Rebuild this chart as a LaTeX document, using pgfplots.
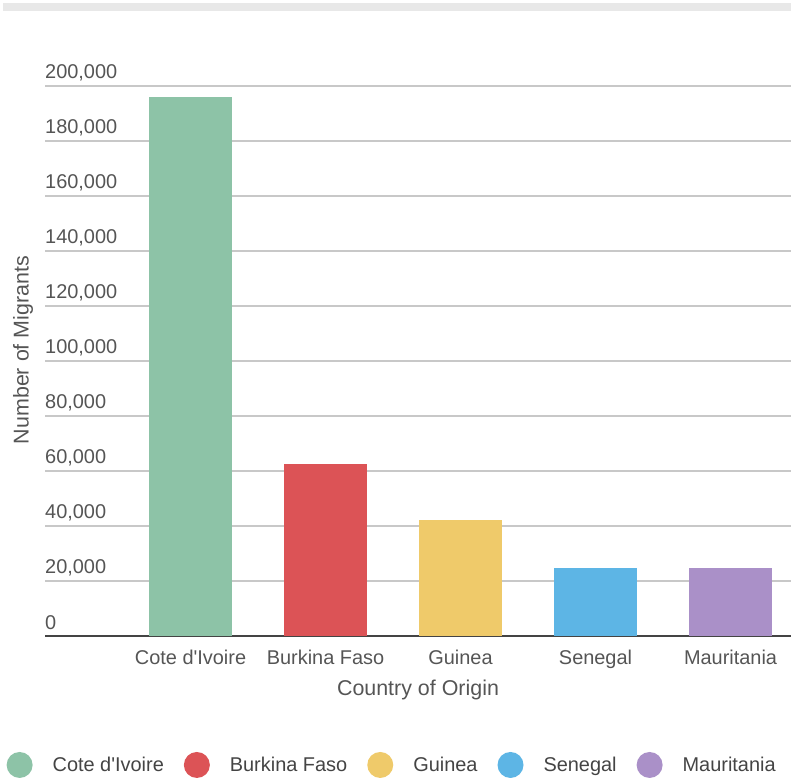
\documentclass[border=0pt]{standalone}
\usepackage{pgfplots}
\pgfplotsset{compat=1.18}
\usepackage{fontspec}
\setmainfont{Liberation Sans}
\definecolor{cgreen}{HTML}{8DC3A7}
\definecolor{cred}{HTML}{DC5356}
\definecolor{cyellow}{HTML}{EFCA6A}
\definecolor{cblue}{HTML}{5DB5E5}
\definecolor{cpurple}{HTML}{AA90C8}
\definecolor{tickgray}{HTML}{555555}
\definecolor{gridgray}{HTML}{C8C8C8}
\definecolor{axisdark}{HTML}{444444}
\begin{document}
\begin{tikzpicture}
\fill[gray!18] (3bp,769bp) rectangle (791bp,777bp);
\begin{axis}[
  at={(45bp,144bp)}, anchor=south west,
  scale only axis, width=746bp, height=550bp,
  ybar,
  xmin=-1.078, xmax=4.448,
  ymin=0, ymax=200000,
  scaled y ticks=false,
  xtick={0,1,2,3,4},
  xticklabels={Cote d\textquotesingle Ivoire,Burkina Faso,Guinea,Senegal,Mauritania},
  ytick={0,20000,40000,60000,80000,100000,120000,140000,160000,180000,200000},
  yticklabels={0,{20,000},{40,000},{60,000},{80,000},{100,000},{120,000},{140,000},{160,000},{180,000},{200,000}},
  ymajorgrids,
  major grid style={draw=gridgray, line width=1.5bp},
  axis lines*=left,
  y axis line style={draw=none},
  x axis line style={draw=axisdark, line width=2.5bp},
  tick style={draw=none},
  ticklabel style={font=\fontsize{20}{24}\selectfont, text=tickgray},
  yticklabel style={anchor=base west, inner sep=0pt, yshift=7bp},
  xticklabel style={inner sep=0pt, yshift=-10bp, anchor=north},
  xlabel={Country of Origin},
  ylabel={Number of Migrants},
  every axis x label/.style={at={(axis description cs:0.5,-0.098)}, anchor=center, font=\fontsize{21.5}{25}\selectfont, text=tickgray},
  every axis y label/.style={at={(axis description cs:-0.0295,0.520)}, anchor=center, rotate=90, font=\fontsize{21.5}{25}\selectfont, text=tickgray},
  bar width=83bp,
  legend columns=5,
  legend image code/.code={\fill[#1] (0bp,0bp) circle (13bp);},
  legend style={at={(axis description cs:0.464,-0.2345)}, anchor=center, draw=none, fill=none,
    font=\fontsize{20}{24}\selectfont, text=axisdark,
    nodes={inner sep=0pt},
    /tikz/every odd column/.append style={column sep=20bp},
    /tikz/every even column/.append style={column sep=20bp}},
]
\addplot[fill=cgreen, draw=none, bar shift=0pt] coordinates {(0,196000)};
\addlegendentry{Cote d\textquotesingle Ivoire}
\addplot[fill=cred, draw=none, bar shift=0pt] coordinates {(1,62400)};
\addlegendentry{Burkina Faso}
\addplot[fill=cyellow, draw=none, bar shift=0pt] coordinates {(2,42300)};
\addlegendentry{Guinea}
\addplot[fill=cblue, draw=none, bar shift=0pt] coordinates {(3,24600)};
\addlegendentry{Senegal}
\addplot[fill=cpurple, draw=none, bar shift=0pt] coordinates {(4,24600)};
\addlegendentry{Mauritania}
\end{axis}
\pgfresetboundingbox
\useasboundingbox (0,0) rectangle (791bp,780bp);
\end{tikzpicture}
\end{document}
